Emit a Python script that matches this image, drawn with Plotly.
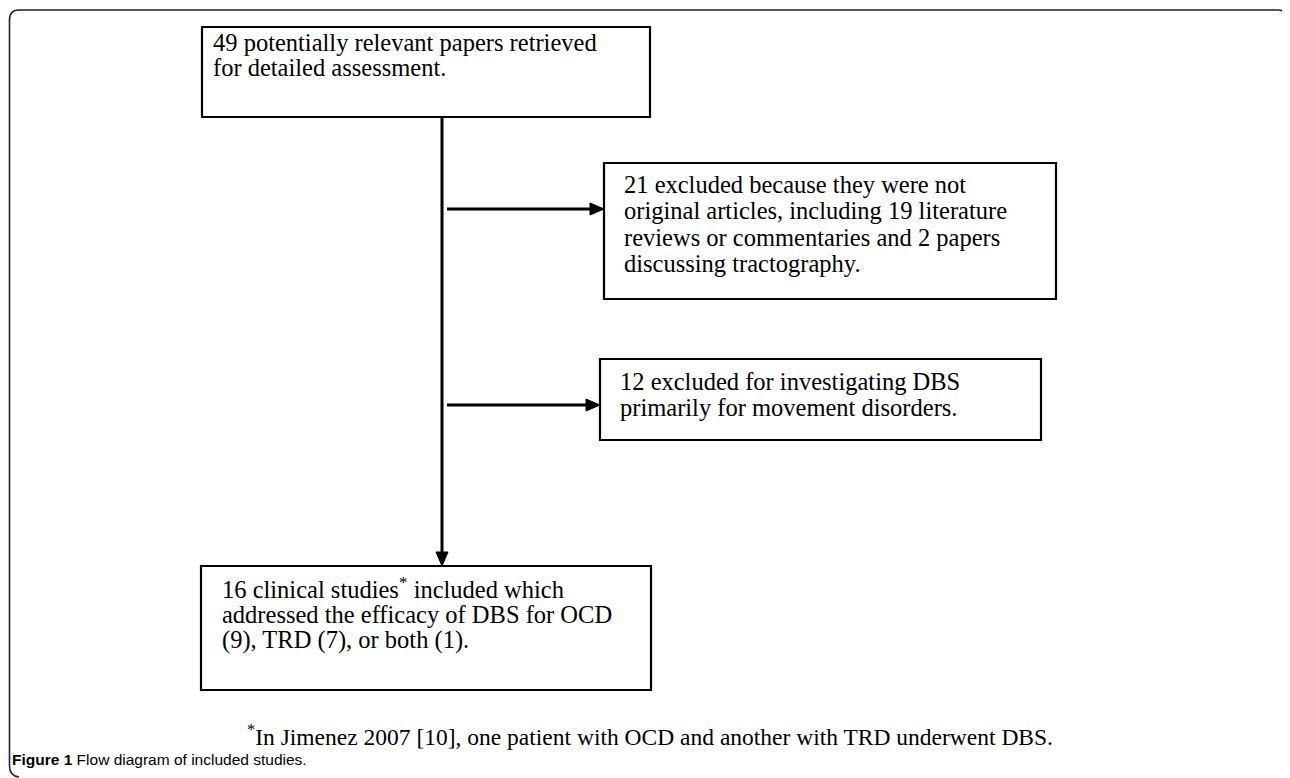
import plotly.graph_objects as go

# ---- Data (texts of the flow diagram) ----
box1_lines = ["49 potentially relevant papers retrieved", "for detailed assessment."]
box2_lines = ["21 excluded because they were not",
              "original articles, including 19 literature",
              "reviews or commentaries and 2 papers",
              "discussing tractography."]
box3_lines = ["12 excluded for investigating DBS",
              "primarily for movement disorders."]
box4_lines = ["16 clinical studies<sup>*</sup> included which",
              "addressed the efficacy of DBS for OCD",
              "(9), TRD (7), or both (1)."]
footnote = "<sup>*</sup>In Jimenez 2007 [10], one patient with OCD and another with TRD underwent DBS."
caption_bold = "Figure 1"
caption_rest = "Flow diagram of included studies."

PAGE_W, PAGE_H = 1290, 778
OFF = 8  # default body margin of the html page
W, H = PAGE_W - OFF, PAGE_H - OFF
SERIF = "Liberation Serif, Times New Roman, serif"
SANS = "Liberation Sans, Arial, sans-serif"

fig = go.Figure()
fig.update_layout(width=W, height=H, margin=dict(l=0, r=0, t=0, b=0),
                  paper_bgcolor="white", plot_bgcolor="white", showlegend=False,
                  xaxis=dict(range=[OFF, PAGE_W], visible=False, fixedrange=True),
                  yaxis=dict(range=[PAGE_H, OFF], visible=False, fixedrange=True))

shapes = []
annots = []

# outer frame (top + left with rounded corners)
shapes.append(dict(type="path", xref="x", yref="y",
                   path="M 1287,19 Q 1287,10 1278,10 L 19,10 Q 9.5,10 9.5,20 L 9.5,766 Q 9.5,776 19,777",
                   line=dict(color="#222", width=1.6)))

def box(x0, y0, x1, y1, lines, ys, pad):
    shapes.append(dict(type="rect", xref="x", yref="y", x0=x0, y0=y0, x1=x1, y1=y1,
                       line=dict(color="black", width=2.2), fillcolor="rgba(0,0,0,0)"))
    for t, y in zip(lines, ys):
        annots.append(dict(x=x0 + pad, y=y, xref="x", yref="y", text=t, showarrow=False,
                           xanchor="left", yanchor="middle",
                           font=dict(family=SERIF, size=24.5, color="black")))

box(202, 27, 650, 117, box1_lines, [42, 67], 9)
box(604, 163, 1056, 299, box2_lines, [184, 210, 237, 263], 18)
box(600, 359, 1041, 440, box3_lines, [381, 407], 18)
box(201, 566, 651, 690, box4_lines, [588, 614, 640], 19)

# vertical main line with arrowhead
shapes.append(dict(type="line", xref="x", yref="y", x0=442, y0=117, x1=442, y1=553,
                   line=dict(color="black", width=3)))
shapes.append(dict(type="path", xref="x", yref="y", path="M 436,552 L 448,552 L 442,566 Z",
                   fillcolor="black", line=dict(color="black", width=1)))

# horizontal arrows
for yy, xt in [(209, 604), (405, 600)]:
    shapes.append(dict(type="line", xref="x", yref="y", x0=447, y0=yy, x1=xt - 12, y1=yy,
                       line=dict(color="black", width=3)))
    shapes.append(dict(type="path", xref="x", yref="y",
                       path=f"M {xt-14},{yy-6} L {xt},{yy} L {xt-14},{yy+6} Z",
                       fillcolor="black", line=dict(color="black", width=1)))

# footnote
annots.append(dict(x=245, y=735, xref="x", yref="y", text=footnote, showarrow=False,
                   xanchor="left", yanchor="middle",
                   font=dict(family=SERIF, size=23.5, color="black")))
# caption
annots.append(dict(x=10, y=759, xref="x", yref="y",
                   text=f"<b>{caption_bold}</b> {caption_rest}", showarrow=False,
                   xanchor="left", yanchor="middle",
                   font=dict(family=SANS, size=15.5, color="black")))

fig.update_layout(shapes=shapes, annotations=annots)
fig.write_html("out.html")
